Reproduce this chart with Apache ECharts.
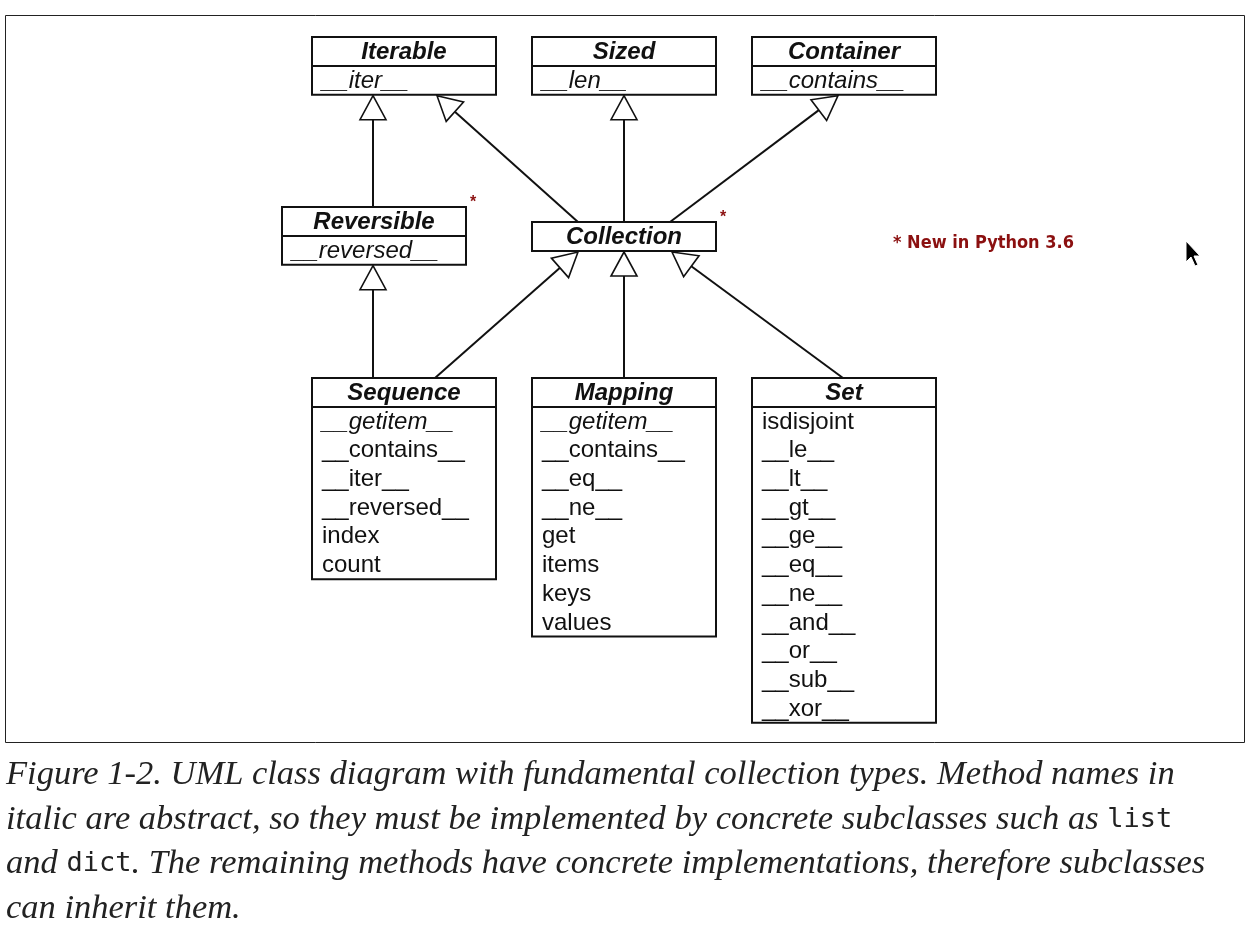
<!DOCTYPE html>
<html>
<head>
<meta charset="utf-8">
<script src="https://cdn.jsdelivr.net/npm/echarts@6/dist/echarts.min.js"></script>
<style>html,body{margin:0;background:#fff}#container{width:1255px;height:927px}</style>
</head>
<body>
<div id="container"></div>
<script>
// class names and their methods; italic methods are abstract
let classNames = ['Iterable', 'Sized', 'Container', 'Reversible', 'Collection', 'Sequence', 'Mapping', 'Set'];
let classMethods = [
    ['__iter__'],
    ['__len__'],
    ['__contains__'],
    ['__reversed__'],
    [],
    ['__getitem__', '__contains__', '__iter__', '__reversed__', 'index', 'count'],
    ['__getitem__', '__contains__', '__eq__', '__ne__', 'get', 'items', 'keys', 'values'],
    ['isdisjoint', '__le__', '__lt__', '__gt__', '__ge__', '__eq__', '__ne__', '__and__', '__or__', '__sub__', '__xor__']
];
let abstractCount = [1, 1, 1, 1, 0, 1, 1, 0];
let newClasses = ['Reversible', 'Collection'];
// child -> parent
let edges = [
    ['Reversible', 'Iterable'], ['Collection', 'Iterable'], ['Collection', 'Sized'], ['Collection', 'Container'],
    ['Sequence', 'Reversible'], ['Sequence', 'Collection'], ['Mapping', 'Collection'], ['Set', 'Collection']
];
let noteText = '* New in Python 3.6';

// layout: left x, top y of each box
let layout = {
    Iterable: [312, 37], Sized: [532, 37], Container: [752, 37],
    Reversible: [282, 207], Collection: [532, 222],
    Sequence: [312, 378], Mapping: [532, 378], Set: [752, 378]
};
// edge endpoints: [childX, parentX]
let edgeX = [[373, 373], [578, 437], [624, 624], [670, 838], [373, 373], [435, 578], [624, 624], [843, 672]];
let boxW = 184, titleH = 29, rowH = 28.7;

let dom = document.getElementById('container');
let myChart = echarts.init(dom);
let g = [];
let boxBottom = {};
g.push({ type: 'rect', shape: { x: 5.5, y: 15.5, width: 1239, height: 727 }, style: { fill: 'none', stroke: '#222', lineWidth: 1 } });

classNames.forEach((name, i) => {
    let [x, y] = layout[name];
    let ms = classMethods[i];
    let h = titleH + ms.length * rowH;
    boxBottom[name] = y + h;
    g.push({ type: 'rect', shape: { x: x, y: y, width: boxW, height: h }, style: { fill: '#fff', stroke: '#111', lineWidth: 2 } });
    g.push({ type: 'text', style: { x: x + boxW / 2, y: y + titleH / 2 + 1, text: name, align: 'center', verticalAlign: 'middle', font: 'italic bold 24px "Liberation Sans", Arial', fill: '#111' } });
    if (ms.length) {
        g.push({ type: 'line', shape: { x1: x, y1: y + titleH, x2: x + boxW, y2: y + titleH }, style: { stroke: '#111', lineWidth: 2 } });
    }
    ms.forEach((m, j) => {
        g.push({ type: 'text', style: {
            x: x + 10,
            y: y + titleH + 15 + j * rowH,
            text: m, align: 'left', verticalAlign: 'middle',
            font: (j < abstractCount[i] ? 'italic ' : '') + '24px "Liberation Sans", Arial', fill: '#111' } });
    });
    if (newClasses.indexOf(name) >= 0) {
        g.push({ type: 'text', style: { x: x + boxW + 4, y: y - 4, text: '*', align: 'left', verticalAlign: 'middle', font: 'bold 16px "Liberation Sans"', fill: '#8b1010' } });
    }
});

edges.forEach((e, k) => {
    let x1 = edgeX[k][0], y1 = layout[e[0]][1];
    let x2 = edgeX[k][1], y2 = boxBottom[e[1]] + 1;
    let dx = x2 - x1, dy = y2 - y1, len = Math.sqrt(dx * dx + dy * dy);
    let ux = dx / len, uy = dy / len, L = 24, W = 26;
    let bx = x2 - ux * L, by = y2 - uy * L;
    g.push({ type: 'line', shape: { x1: x1, y1: y1, x2: bx, y2: by }, style: { stroke: '#111', lineWidth: 2 } });
    g.push({ type: 'polygon', shape: { points: [[x2, y2], [bx - uy * W / 2, by + ux * W / 2], [bx + uy * W / 2, by - ux * W / 2]] }, style: { fill: '#fff', stroke: '#111', lineWidth: 1.6 } });
});

g.push({ type: 'text', style: { x: 893, y: 243, text: noteText, verticalAlign: 'middle', font: 'bold 18px "DejaVu Sans Condensed", "Liberation Sans Narrow", sans-serif', fill: '#8b1010' } });
// mouse cursor
g.push({ type: 'polygon', shape: { points: [[1186, 241], [1186, 262], [1191, 257], [1195, 266], [1198, 265], [1194, 256], [1200, 256]] }, style: { fill: '#000', stroke: '#fff', lineWidth: 1 } });

// caption
let captionLines = [
    [['i', 'Figure 1-2. UML class diagram with fundamental collection types. Method names in']],
    [['i', 'italic are abstract, so they must be implemented by concrete subclasses such as '], ['m', 'list']],
    [['i', 'and '], ['m', 'dict'], ['i', '. The remaining methods have concrete implementations, therefore subclasses']],
    [['i', 'can inherit them.']]
];
captionLines.forEach((line, i) => {
    g.push({ type: 'text', style: {
        x: 6, y: 775 + i * 44.5, verticalAlign: 'middle',
        text: line.map(p => '{' + p[0] + '|' + p[1] + '}').join(''),
        rich: {
            i: { font: 'italic 34.5px "Liberation Serif", "DejaVu Serif", serif', fill: '#222' },
            m: { font: '27px "DejaVu Sans Mono", "Liberation Mono", monospace', fill: '#222' }
        } } });
});

let option = { animation: false, graphic: { elements: g } };
myChart.setOption(option, true);
</script>
</body>
</html>
